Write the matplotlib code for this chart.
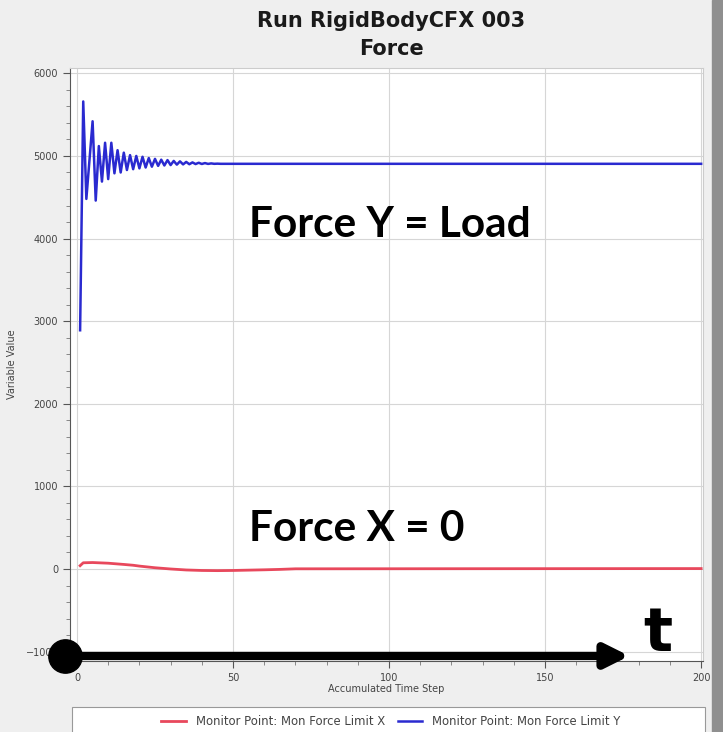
import matplotlib.pyplot as plt
from matplotlib.ticker import MultipleLocator
from matplotlib.patches import Rectangle

# Force Y (blue) - damped oscillation then flat
t_y = list(range(1, 47)) + [200]
force_y = [2890, 5660, 4480, 4950, 5420, 4460, 5120, 4690, 5160, 4720,
           5160, 4790, 5070, 4800, 5040, 4830, 5010, 4840, 5000, 4850,
           4990, 4860, 4975, 4870, 4965, 4880, 4955, 4885, 4950, 4890,
           4940, 4895, 4935, 4898, 4928, 4900, 4922, 4902, 4918, 4903,
           4914, 4904, 4910, 4905, 4907, 4905, 4905]

# Force X (red) - small drift around zero
t_x = [1, 2, 5, 10, 15, 18, 20, 25, 30, 35, 40, 45, 50, 55, 60, 65, 70, 200]
force_x = [40, 75, 78, 70, 55, 45, 35, 15, 0, -12, -18, -20, -18, -14, -10, -5, 2, 5]

title = "Run RigidBodyCFX 003\nForce"
label_x = "Monitor Point: Mon Force Limit X"
label_y = "Monitor Point: Mon Force Limit Y"

fig = plt.figure(figsize=(7.23, 7.32), dpi=100, facecolor="#efefef")
ax = fig.add_axes([70/723, 71/732, 633/723, 593/732])
ax.set_facecolor("white")

ax.plot(t_x, force_x, color="#e8485c", lw=2.0, label=label_x, zorder=3)
ax.plot(t_y, force_y, color="#2a2ad0", lw=1.8, label=label_y, zorder=3)

ax.set_xlim(-2.24, 200.6)
ax.set_ylim(-1114, 6065)
ax.xaxis.set_major_locator(MultipleLocator(50))
ax.xaxis.set_minor_locator(MultipleLocator(10))
ax.yaxis.set_major_locator(MultipleLocator(1000))
ax.yaxis.set_minor_locator(MultipleLocator(200))
ax.grid(True, which="major", color="#d6d6d6", lw=0.8)
ax.set_axisbelow(True)
ax.tick_params(which="major", length=5, color="#555555", labelsize=7, labelcolor="#444444")
ax.tick_params(which="minor", length=3, color="#777777")
for s in ["top", "right"]:
    ax.spines[s].set_color("#cccccc")
for s in ["left", "bottom"]:
    ax.spines[s].set_color("#555555")
ax.set_xlabel("Accumulated Time Step", fontsize=7, color="#444444", labelpad=1)
ax.set_ylabel("Variable Value", fontsize=7, color="#444444", labelpad=6)

fig.text(0.541, 0.985, title, ha="center", va="top", fontsize=15,
         fontweight="bold", color="#1a1a1a", linespacing=1.5)

# annotations
ax.text(55, 4170, "Force Y = Load", fontsize=30.5, fontweight="bold",
        family="Lato", va="center", ha="left", color="black")
ax.text(55, 490, "Force X = 0", fontsize=30.5, fontweight="bold",
        family="Lato", va="center", ha="left", color="black")
ax.text(186, -790, "t", fontsize=44, fontweight="bold",
        family="DejaVu Sans", va="center", ha="center", color="black")
ax.annotate("", xy=(177, -1053), xytext=(-4, -1053),
            arrowprops=dict(arrowstyle="-|>,head_length=1.4,head_width=0.7",
                            color="black", lw=6, shrinkA=0, shrinkB=0),
            annotation_clip=False, zorder=6)
ax.plot([-4], [-1053], "o", color="black", ms=24, clip_on=False, zorder=7)

# legend box below axes
fig.patches.append(Rectangle((72/723, -0.01), 633/723, 25/732 + 0.01,
                             transform=fig.transFigure, facecolor="white",
                             edgecolor="#999999", lw=0.8, zorder=0))
leg = fig.legend(loc="center", bbox_to_anchor=(0.541, 0.0137), ncol=2, fontsize=8.4,
                 frameon=False, handlelength=2.1, handletextpad=0.85,
                 columnspacing=1.1, borderaxespad=0, borderpad=0)
for txt in leg.get_texts():
    txt.set_color("#444444")

fig.patches.append(Rectangle((712/723, 0), 11/723, 1, transform=fig.transFigure,
                             color="#8f8f8f", zorder=0))

fig.savefig("out.png", dpi=100, facecolor=fig.get_facecolor())
